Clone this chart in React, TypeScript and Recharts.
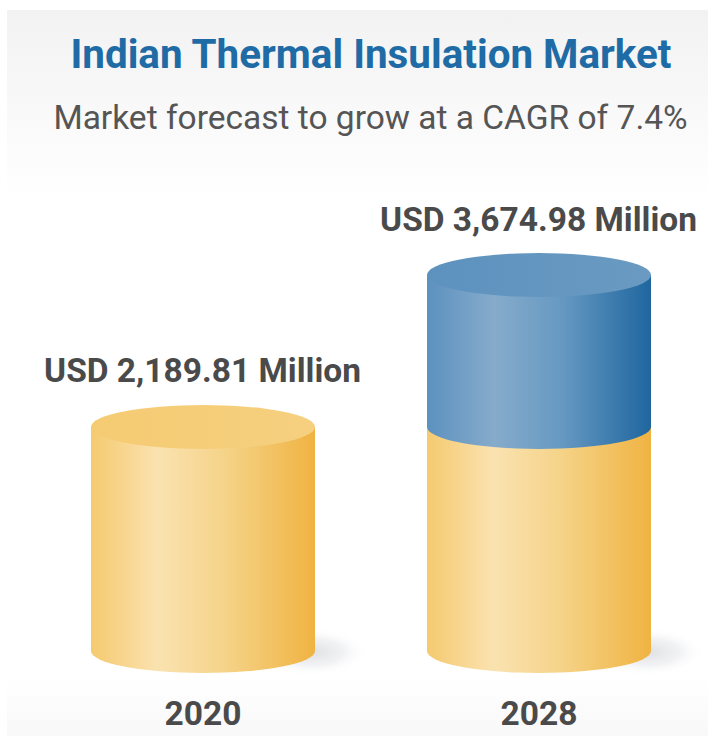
import React from 'react';
import { BarChart, Bar, XAxis, YAxis, LabelList } from 'recharts';

const years = ['2020', '2028'];
const totals = [2189.81, 3674.98];
const baseValues = [2189.81, 2189.81];
const growthValues = [0, 1485.17];

const chartData = years.map((year, i) => ({
  year,
  total: totals[i],
  base: baseValues[i],
  growth: growthValues[i],
}));

const FONT = 'Roboto, sans-serif';
const RY = 22;

// Cylinder wall with a rounded bottom edge, capped by an ellipse on the top
const Cylinder = ({ x, y, width, height, fill, capFill, showCap, showShadow }: any) => {
  const rx = width / 2;
  const bottom = y + height;
  return (
    <g>
      {showShadow && (
        <ellipse cx={x + width - 4} cy={bottom + 1} rx={58} ry={24} fill="url(#shadowFade)" />
      )}
      <path
        d={`M${x},${y} L${x},${bottom} A${rx},${RY} 0 0 0 ${x + width},${bottom} L${x + width},${y} Z`}
        fill={fill}
      />
      {showCap && <ellipse cx={x + rx} cy={y} rx={rx} ry={RY} fill={capFill} />}
    </g>
  );
};

const BaseShape = (props: any) => (
  <Cylinder
    {...props}
    fill="url(#goldWall)"
    capFill="url(#goldCap)"
    showCap={props.payload.growth === 0}
    showShadow
  />
);

const GrowthShape = (props: any) =>
  props.payload.growth > 0 ? (
    <Cylinder {...props} fill="url(#blueWall)" capFill="url(#blueCap)" showCap />
  ) : null;

const TotalLabel = ({ x, y, width, value }: any) => (
  <text
    x={x + width / 2 - 0.5}
    y={y - 56}
    textAnchor="middle"
    dominantBaseline="central"
    fontFamily={FONT}
    fontWeight={700}
    fontSize={33.5}
    fill="#4a4a4a"
  >
    {`USD ${value.toLocaleString('en-US', { minimumFractionDigits: 2 })} Million`}
  </text>
);

const App = () => (
  <div style={{ position: 'absolute', left: 0, top: 0, width: 708, height: 736, background: '#fff', overflow: 'hidden' }}>
    <div
      style={{
        position: 'absolute',
        left: 7,
        top: 10,
        width: 701,
        height: 190,
        background: 'linear-gradient(#f2f2f2, #ffffff)',
      }}
    />
    <div
      style={{
        position: 'absolute',
        left: 7,
        top: 680,
        width: 701,
        height: 56,
        background: 'linear-gradient(#ffffff, #f8f8f8)',
      }}
    />
    <div
      style={{
        position: 'absolute',
        left: 0,
        width: 742,
        top: 33,
        textAlign: 'center',
        fontFamily: FONT,
        fontWeight: 700,
        fontSize: 40.4,
        lineHeight: '44px',
        color: '#1f6ba5',
        whiteSpace: 'nowrap',
      }}
    >
      Indian Thermal Insulation Market
    </div>
    <div
      style={{
        position: 'absolute',
        left: 0,
        width: 741,
        top: 98,
        textAlign: 'center',
        fontFamily: FONT,
        fontWeight: 400,
        fontSize: 33.5,
        lineHeight: '40px',
        color: '#555555',
        whiteSpace: 'nowrap',
      }}
    >
      Market forecast to grow at a CAGR of 7.4%
    </div>
    <div style={{ position: 'absolute', left: 0, top: 0 }}>
      <BarChart
        width={708}
        height={736}
        data={chartData}
        margin={{ top: 275, right: 1, bottom: 0, left: 35 }}
        barSize={224}
      >
        <defs>
          <linearGradient id="goldWall" x1="0" y1="0" x2="1" y2="0">
            <stop offset="0%" stopColor="#f5ca70" />
            <stop offset="30%" stopColor="#fae2b0" />
            <stop offset="60%" stopColor="#f5d388" />
            <stop offset="100%" stopColor="#f0b342" />
          </linearGradient>
          <linearGradient id="goldCap" x1="0" y1="0" x2="1" y2="0">
            <stop offset="0%" stopColor="#f5cb72" />
            <stop offset="100%" stopColor="#f6d080" />
          </linearGradient>
          <linearGradient id="blueWall" x1="0" y1="0" x2="1" y2="0">
            <stop offset="0%" stopColor="#5c91bf" />
            <stop offset="30%" stopColor="#86abcb" />
            <stop offset="60%" stopColor="#6699c2" />
            <stop offset="100%" stopColor="#1f669f" />
          </linearGradient>
          <linearGradient id="blueCap" x1="0" y1="0" x2="1" y2="0">
            <stop offset="0%" stopColor="#5d92bf" />
            <stop offset="100%" stopColor="#6a9ac1" />
          </linearGradient>
          <radialGradient id="shadowFade">
            <stop offset="0%" stopColor="#d6d8dc" stopOpacity={0.8} />
            <stop offset="55%" stopColor="#e6e7ea" stopOpacity={0.55} />
            <stop offset="100%" stopColor="#ffffff" stopOpacity={0} />
          </radialGradient>
        </defs>
        <XAxis
          dataKey="year"
          height={85}
          axisLine={false}
          tickLine={false}
          tickMargin={44}
          tick={{ fontFamily: FONT, fontWeight: 700, fontSize: 33.5, fill: '#4a4a4a' }}
        />
        <YAxis hide domain={[0, Math.max(...totals)]} />
        <Bar dataKey="base" stackId="market" shape={BaseShape} isAnimationActive={false} />
        <Bar dataKey="growth" stackId="market" shape={GrowthShape} isAnimationActive={false}>
          <LabelList dataKey="total" content={TotalLabel} />
        </Bar>
      </BarChart>
    </div>
  </div>
);

export default App;
